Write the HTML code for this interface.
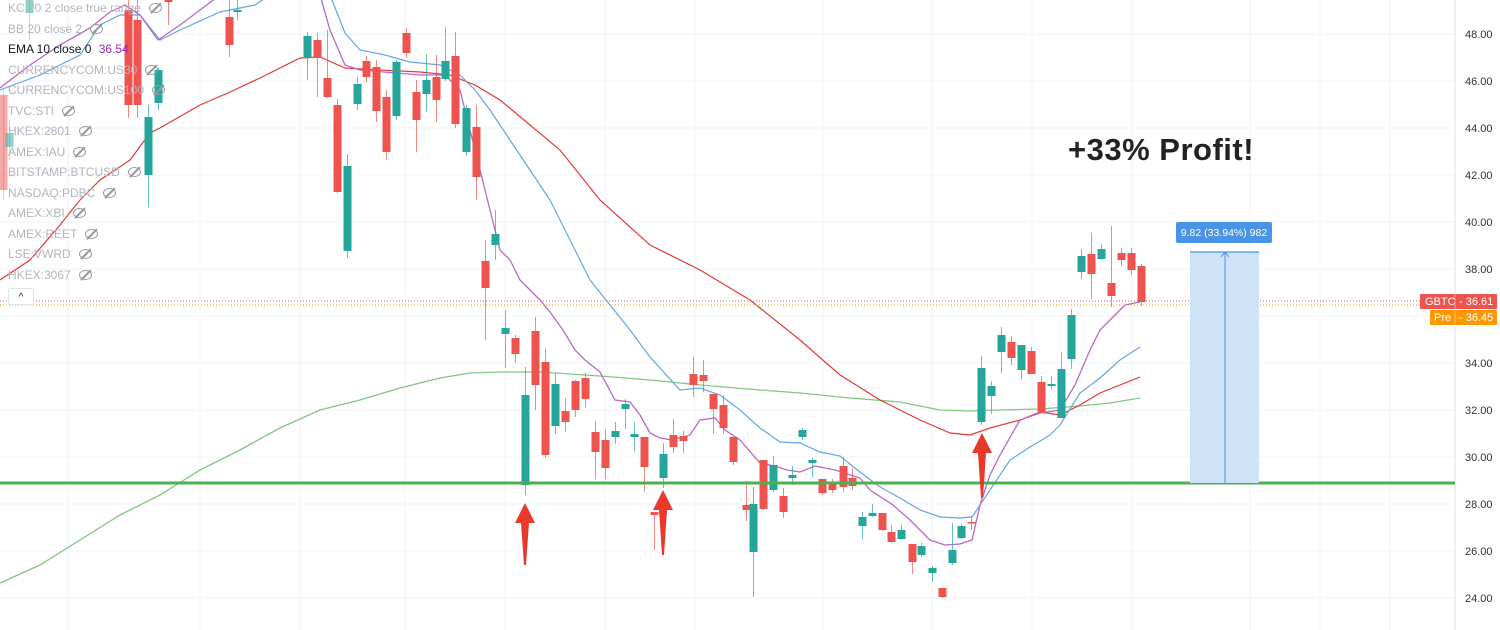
<!DOCTYPE html>
<html><head><meta charset="utf-8"><style>
body{margin:0;background:#fff;width:1500px;height:630px;overflow:hidden;font-family:"Liberation Sans",sans-serif}
svg{position:absolute;left:0;top:0}
.lg{position:absolute;left:8px;font-size:12px;color:#b2b5be;white-space:nowrap}
.lg i{display:inline-block;width:11px;height:8px;border:1.5px solid #9598a1;border-radius:50%;margin-left:8px;position:relative;top:1px}
.lg i:after{content:"";position:absolute;left:5px;top:-3px;width:1.5px;height:14px;background:#9598a1;transform:rotate(45deg)}
</style></head><body>
<svg id="s" width="1500" height="630" xmlns="http://www.w3.org/2000/svg"></svg>
<div class="lg" style="top:1px">KC 20 2 close true range<i></i></div>
<div class="lg" style="top:22px">BB 20 close 2<i></i></div>
<div class="lg" style="top:42px;color:#131722">EMA 10 close 0 <span style="color:#9c27b0;margin-left:4px">36.54</span></div>
<div class="lg" style="top:63px">CURRENCYCOM:US30<i></i></div>
<div class="lg" style="top:83px">CURRENCYCOM:US100<i></i></div>
<div class="lg" style="top:104px">TVC:STI<i></i></div>
<div class="lg" style="top:124px">HKEX:2801<i></i></div>
<div class="lg" style="top:145px">AMEX:IAU<i></i></div>
<div class="lg" style="top:165px">BITSTAMP:BTCUSD<i></i></div>
<div class="lg" style="top:186px">NASDAQ:PDBC<i></i></div>
<div class="lg" style="top:206px">AMEX:XBI<i></i></div>
<div class="lg" style="top:227px">AMEX:REET<i></i></div>
<div class="lg" style="top:247px">LSE:VWRD<i></i></div>
<div class="lg" style="top:268px">HKEX:3067<i></i></div>
<div style="position:absolute;left:8px;top:288px;width:24px;height:15px;border:1px solid #e0e3eb;border-radius:3px;background:#fff;font-size:10px;text-align:center;line-height:17px;color:#131722">^</div>
<div style="position:absolute;left:1068px;top:132px;font-size:31px;font-weight:bold;color:#222;letter-spacing:0.5px">+33% Profit!</div>
<script>
var s=document.getElementById('s'),h='';
function y(p){return 34+(48-p)*23.5}
[68,200,300,405,505,605,695,823,932,1032,1132,1250,1320,1390].forEach(function(x){h+='<line x1="'+x+'" y1="0" x2="'+x+'" y2="630" stroke="#f0f3fa"/>'});
for(var p=24;p<=48;p+=2){var yy=y(p);h+='<line x1="0" y1="'+yy+'" x2="1455" y2="'+yy+'" stroke="#f0f3fa"/><text x="1465" y="'+(yy+4)+'" font-size="11" fill="#333">'+p.toFixed(2)+'</text>';}
h+='<line x1="1455" y1="0" x2="1455" y2="630" stroke="#e0e3eb"/>';
function pl(pts,c,w){h+='<polyline fill="none" stroke="'+c+'" stroke-width="'+w+'" points="'+pts+'"/>'}
pl('0,583 40,565 80,540 120,515 160,495 200,470 240,450 280,428 320,410 360,400 400,388 440,378 470,373 500,372 540,372 600,376 650,380 700,385 760,390 800,393 850,398 900,402 940,410 970,411 1000,410 1040,409 1080,406 1110,403 1140,398','#81c784',1.3);
pl('0,280 30,260 60,225 80,200 100,180 130,160 150,133 160,128 200,105 230,92 260,78 300,58 320,57 345,68 380,70 420,72 450,75 475,85 500,100 530,125 560,150 600,200 650,245 700,270 750,300 800,340 840,375 880,400 920,420 950,433 970,435 990,428 1020,420 1040,412 1060,415 1080,405 1100,393 1120,385 1140,377','#e53935',1.2);
pl('0,90 40,75 80,55 100,25 120,15 140,15 160,40 180,30 220,12 255,5 270,-5 330,-5 345,33 360,50 385,55 410,62 440,65 460,75 475,90 490,110 510,140 530,170 550,200 570,240 590,280 610,305 630,330 650,357 680,390 700,388 720,395 740,410 760,428 780,442 800,443 820,452 840,456 860,472 880,487 900,498 920,510 940,517 960,518 972,517 990,490 1010,460 1030,447 1050,435 1060,425 1080,393 1100,378 1120,360 1140,347','#64a6e8',1.2);
pl('0,88 30,65 60,45 90,28 110,12 125,5 140,15 158,40 180,25 200,10 220,-5 320,-5 330,30 345,65 360,70 420,75 445,75 460,90 470,130 480,170 490,210 500,250 510,260 520,280 540,300 550,312 563,330 575,350 585,360 600,372 615,400 630,402 640,415 650,433 660,438 672,440 690,435 700,420 715,418 725,430 740,440 760,463 775,466 787,470 800,472 815,466 835,470 860,478 870,490 893,505 910,520 930,540 945,545 960,544 972,540 980,505 990,475 1000,455 1020,420 1040,413 1060,410 1075,385 1090,350 1100,330 1110,320 1125,305 1140,302','#ba68c8',1.3);
var G='#26a69a',R='#ef5350';
var c=[[3,95,190,90,200,R],[9,133,147,120,160,G],[29,-5,13,-5,40,G],[128,10,105,0,118,R],[137,20,105,0,118,R],[148,117,175,105,207,G],[158,70,103,68,110,G],[168,-5,2,-5,25,R],[229,17,45,0,57,R],[237,10,12,0,20,G],[307,36,58,32,80,G],[317,40,58,33,97,R],[327,78,97,30,98,R],[337,105,192,99,193,R],[347,166,251,154,258,G],[357,84,104,77,110,G],[366,61,77,56,82,R],[376,67,111,60,122,R],[386,97,152,90,160,R],[396,62,116,60,120,G],[406,33,53,28,58,R],[416,92,120,80,152,R],[426,80,94,54,111,G],[436,77,100,55,122,R],[445,61,79,27,81,G],[455,56,124,32,128,R],[466,108,152,105,156,G],[476,127,177,105,200,R],[485,261,288,240,340,R],[495,234,245,210,260,G],[505,328,334,310,368,G],[515,338,354,335,363,R],[525,395,485,367,495,G],[535,331,385,317,410,R],[545,362,455,348,458,R],[555,384,426,373,434,G],[565,411,422,398,432,R],[575,381,410,380,417,R],[585,378,399,373,408,R],[595,432,452,421,479,R],[605,440,468,429,479,R],[615,431,437,422,444,G],[625,404,409,399,429,G],[634,434,437,422,451,G],[644,437,467,437,492,R],[654,512,515,512,550,R],[663,454,478,443,488,G],[673,435,447,419,453,R],[683,436,441,431,453,R],[693,374,385,357,397,R],[703,375,381,360,392,R],[713,394,409,394,434,R],[723,405,428,395,434,R],[733,437,462,437,465,R],[746,505,510,481,521,R],[753,504,552,487,597,G],[763,460,509,460,510,R],[773,465,490,456,492,G],[783,496,512,488,518,R],[792,475,478,466,485,G],[802,430,437,428,440,G],[812,460,463,458,477,G],[822,479,493,479,495,R],[832,483,490,479,493,R],[843,466,487,457,492,R],[852,478,486,468,490,R],[862,517,526,512,539,G],[872,513,516,504,517,G],[882,513,530,513,531,R],[891,532,542,525,543,R],[901,530,539,525,540,G],[912,544,562,544,574,R],[921,546,555,543,557,G],[932,568,573,566,582,G],[942,588,597,588,598,R],[952,550,563,523,565,G],[961,526,538,524,539,G],[971,522,523,516,530,R],[981,368,422,356,425,G],[991,386,396,381,414,G],[1001,335,352,327,373,G],[1011,342,358,336,365,R],[1021,345,370,345,379,G],[1031,351,374,347,374,R],[1041,382,413,376,413,R],[1051,384,386,376,389,G],[1061,369,418,352,418,G],[1071,315,359,309,369,G],[1081,256,272,249,279,G],[1091,254,274,233,299,R],[1101,249,259,244,260,G],[1111,283,296,226,307,R],[1121,253,260,248,266,R],[1131,253,270,248,275,R],[1141,266,302,264,306,R]];
c.forEach(function(k){var op=k[0]<40?0.5:1;h+='<line x1="'+(k[0]+.5)+'" y1="'+k[3]+'" x2="'+(k[0]+.5)+'" y2="'+k[4]+'" stroke="'+k[5]+'" stroke-opacity="'+(0.7*op)+'"/><rect x="'+(k[0]-3.5)+'" y="'+k[1]+'" width="8" height="'+Math.max(1.5,k[2]-k[1])+'" fill="'+k[5]+'" fill-opacity="'+op+'"/>'});
h+='<line x1="0" y1="483" x2="1455" y2="483" stroke="#4caf50" stroke-width="3"/>';
h+='<line x1="0" y1="301" x2="1420" y2="301" stroke="#ef5350" stroke-dasharray="1,2"/><line x1="0" y1="305" x2="1420" y2="305" stroke="#ff9800" stroke-dasharray="1,2"/>';
function ar(x,t,b){h+='<polygon fill="#e8392a" points="'+x+','+t+' '+(x+10)+','+(t+20)+' '+(x+4)+','+(t+20)+' '+(x+1)+','+b+' '+(x-1)+','+b+' '+(x-4)+','+(t+20)+' '+(x-10)+','+(t+20)+'"/>'}
ar(525,503,565);ar(663,490,555);ar(982,433,498);
h+='<rect x="1190" y="252" width="69" height="231" fill="#cfe3f8"/><line x1="1190" y1="252" x2="1259" y2="252" stroke="#64a6e8" stroke-width="1.5"/><line x1="1225" y1="252" x2="1225" y2="483" stroke="#4a90e2"/><polyline points="1221,257 1225,252 1229,257" fill="none" stroke="#4a90e2"/>';
h+='<rect x="1176" y="222" width="96" height="21" rx="2" fill="#4a94e8"/><text x="1224" y="236" font-size="10.5" fill="#fff" text-anchor="middle">9.82 (33.94%) 982</text>';
h+='<rect x="1420" y="294" width="77" height="15" rx="1" fill="#ef5350"/><text x="1425" y="305" font-size="11" fill="#fff">GBTC</text><line x1="1455" y1="294" x2="1455" y2="309" stroke="#fff" stroke-opacity="0.4"/><text x="1459" y="305" font-size="11" fill="#fff">- 36.61</text>';
h+='<rect x="1430" y="310" width="67" height="15" rx="1" fill="#ff9800"/><text x="1434" y="321" font-size="11" fill="#fff">Pre</text><line x1="1455" y1="310" x2="1455" y2="325" stroke="#fff" stroke-opacity="0.4"/><text x="1459" y="321" font-size="11" fill="#fff">- 36.45</text>';
s.innerHTML=h;
</script>
</body></html>
